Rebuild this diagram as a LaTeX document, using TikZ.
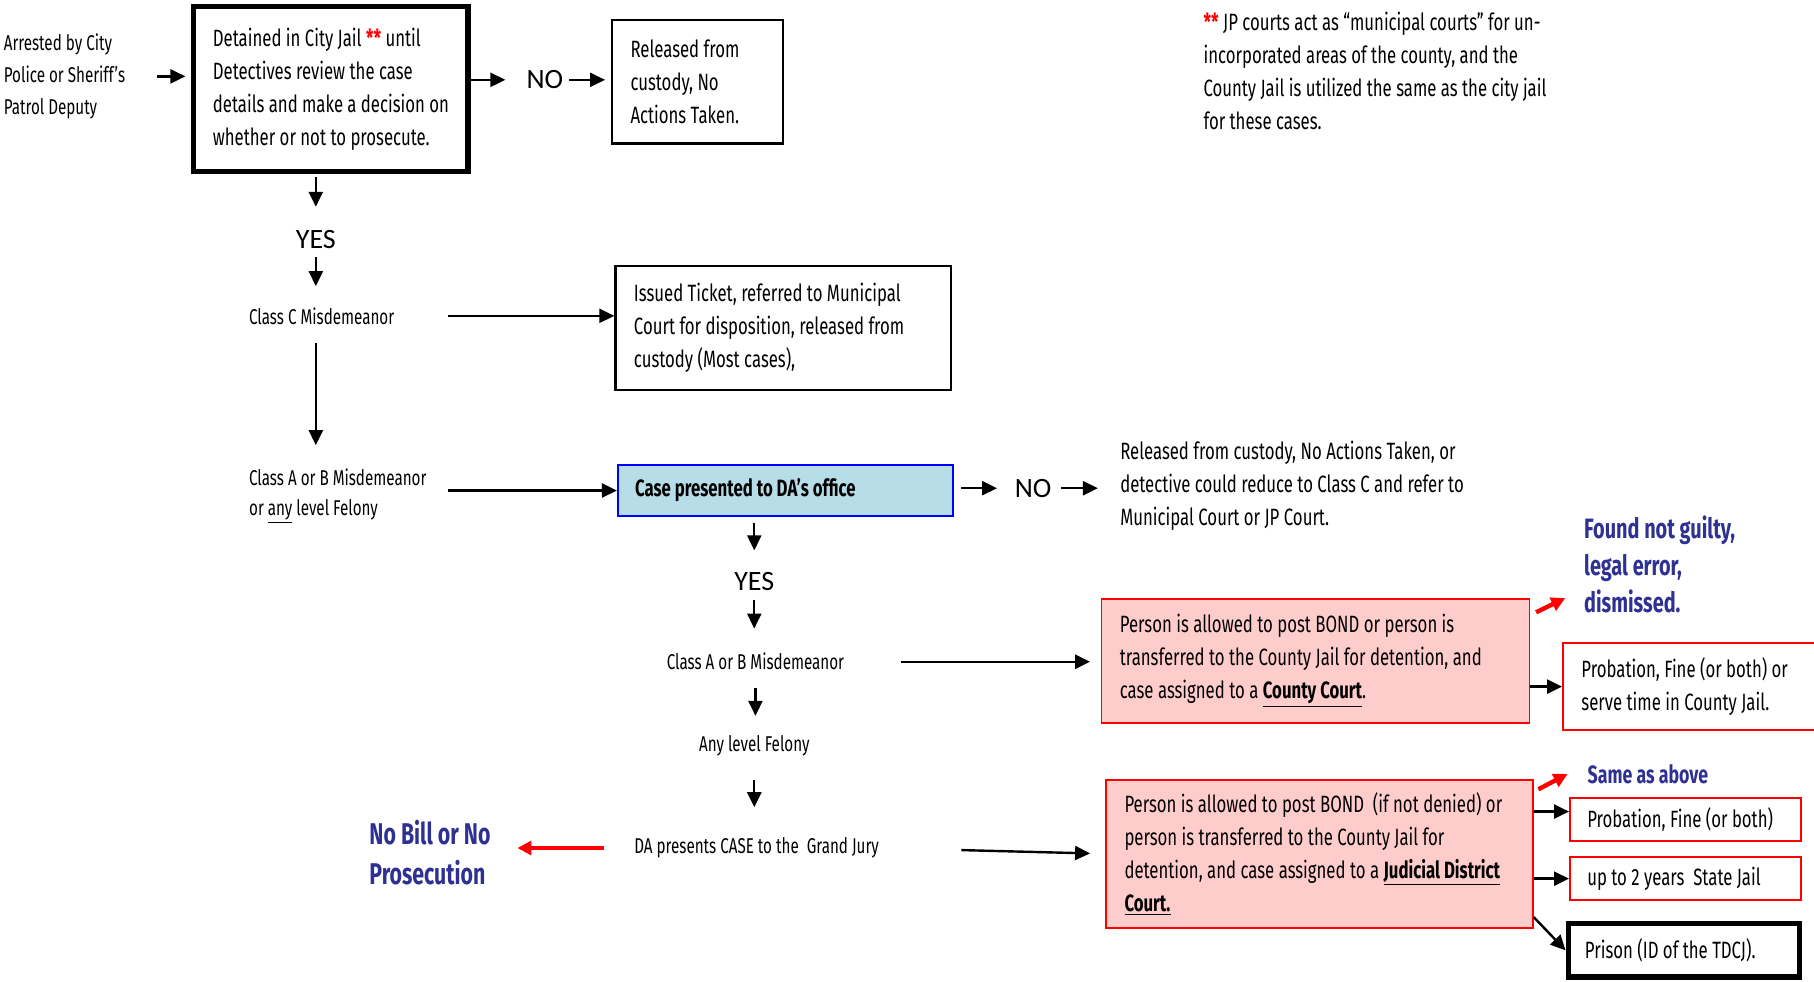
\documentclass[tikz,border=0pt]{standalone}
\usepackage{fontspec}
\setmainfont{Fira Sans}[FakeStretch=0.71]
\newfontfamily\calib{Carlito}
\usetikzlibrary{arrows.meta}
\newdimen\pxu \pxu=0.5785pt
\definecolor{bluetxt}{RGB}{46,49,146}
\definecolor{boxblue}{RGB}{183,222,232}
\definecolor{pinkf}{RGB}{255,204,204}
\definecolor{redb}{RGB}{255,0,0}
\begin{document}
\begin{tikzpicture}[x=0.5785pt,y=-0.5785pt,
  txtfont/.style={font=\fontsize{11.8}{16.5}\selectfont},
  smallfont/.style={font=\fontsize{10.7}{15}\selectfont},
  lbl/.style={txtfont, align=left, inner sep=0pt, anchor=west},
  slbl/.style={smallfont, align=left, inner sep=0pt, anchor=west},
  clbl/.style={smallfont, align=center, inner sep=0pt},
  yn/.style={font=\calib\fontsize{14}{16}\selectfont, inner sep=0pt},
  bluebold/.style={font=\bfseries\fontsize{14}{18.5}\selectfont, text=bluetxt, align=left, inner sep=0pt, anchor=west},
  box/.style={draw, txtfont, align=flush left, inner sep=0pt, line width=2\pxu},
  thickbox/.style={box, line width=4.5\pxu},
  bluebox/.style={box, draw=blue, fill=boxblue, line width=1.5\pxu},
  pinkbox/.style={box, draw=redb, fill=pinkf, line width=1.5\pxu},
  redbox/.style={box, draw=redb, fill=white, line width=1.5\pxu},
  arr/.style={-{Triangle[length=7.5pt,width=7pt]}, line width=1.2pt},
  redarr/.style={-{Triangle[length=7pt,width=7pt]}, draw=redb, line width=2.2pt},
]
\useasboundingbox (0,0) rectangle (1568,848);

% nodes
\node[slbl, font=\fontsize{10.7}{16}\selectfont] (arrested) at (3,66) {Arrested by City\\Police or Sheriff’s\\Patrol Deputy};
\node[thickbox, minimum width=237\pxu, minimum height=143\pxu, text width=204\pxu] (box1) at (286,77)
  {Detained in City Jail \textcolor{redb}{\textbf{**}} until\\Detectives review the case\\details and make a decision on\\whether or not to prosecute.};
\node[yn] (no1) at (471,69) {NO};
\node[box, minimum width=148\pxu, minimum height=107\pxu, text width=116\pxu] (box2) at (603,70.5)
  {Released from\\custody, No\\Actions Taken.};
\node[yn] (yes1) at (273,207) {YES};
\node[slbl] (classC) at (215,273) {Class C Misdemeanor};
\node[box, minimum width=290\pxu, minimum height=107\pxu, text width=258\pxu] (box3) at (677,283.5)
  {Issued Ticket, referred to Municipal\\Court for disposition, released from\\custody (Most cases),};
\node[slbl] (classAB1) at (215,429) {Class A or B Misdemeanor\\or \underline{any} level Felony};
\node[bluebox, minimum width=290\pxu, minimum height=44\pxu, text width=260\pxu] (box4) at (679,424)
  {\textbf{Case presented to DA’s office}};
\node[yn] (no2) at (893,422) {NO};
\node[lbl] (rel2) at (968,419.5) {Released from custody, No Actions Taken, or\\detective could reduce to Class C and refer to\\Municipal Court or JP Court.};
\node[yn] (yes2) at (652,503) {YES};
\node[clbl] (classAB2) at (653,572) {Class A or B Misdemeanor};
\node[clbl] (anyfel) at (652,645) {Any level Felony};
\node[clbl] (grand) at (654,733) {DA presents CASE to the\ \ Grand Jury};
\node[bluebold, font=\bfseries\fontsize{15}{19.7}\selectfont] (nobill) at (319,737) {No Bill or No\\Prosecution};
\node[pinkbox, minimum width=370\pxu, minimum height=107\pxu, text width=338\pxu] (box5) at (1137,571.5)
  {Person is allowed to post BOND or person is\\transferred to the County Jail for detention, and\\case assigned to a \textbf{\underline{County Court}}.};
\node[bluebold] (found) at (1369,488) {Found not guilty,\\legal error,\\dismissed.};
\node[redbox, minimum width=218\pxu, minimum height=75\pxu, text width=186\pxu] (box7) at (1460,593.5)
  {Probation, Fine (or both) or\\serve time in County Jail.};
\node[pinkbox, minimum width=369\pxu, minimum height=128\pxu, text width=337\pxu] (box6) at (1140.5,738)
  {Person is allowed to post BOND\ \ (if not denied) or\\person is transferred to the County Jail for\\detention, and case assigned to a \textbf{\underline{Judicial District}}\\\textbf{\underline{Court.}}};
\node[bluebold, font=\bfseries\fontsize{12.5}{16}\selectfont] (same) at (1372,669) {Same as above};
\node[redbox, minimum width=200\pxu, minimum height=37\pxu, text width=170\pxu] (box8) at (1457,708.5)
  {Probation, Fine (or both)};
\node[redbox, minimum width=200\pxu, minimum height=37\pxu, text width=170\pxu] (box9) at (1457,759.5)
  {up to 2 years\ \ State Jail};
\node[thickbox, minimum width=200\pxu, minimum height=46\pxu, text width=171\pxu] (box10) at (1455.5,821.5)
  {Prison (ID of the TDCJ).};
\node[lbl] (foot) at (1040,61.5) {\textcolor{redb}{\textbf{**}} JP courts act as “municipal courts” for un-\\incorporated areas of the county, and the\\County Jail is utilized the same as the city jail\\for these cases.};

% connectors
\draw[arr, shorten <=27\pxu, shorten >=5\pxu] (arrested.east) -- (arrested.east -| box1.west);
\draw[arr, shorten >=18\pxu] (box1.east |- no1) -- (no1.west);
\draw[arr, shorten <=5\pxu, shorten >=5\pxu] (no1.east) -- (no1.east -| box2.west);
\draw[arr, shorten <=2\pxu, shorten >=20\pxu] (yes1 |- box1.south) -- (yes1.north);
\draw[arr, shorten <=7\pxu, shorten >=18\pxu] (yes1.south) -- (yes1 |- classC.north);
\draw[arr, shorten <=46\pxu] (classC.east) -- (classC.east -| box3.west);
\draw[arr, shorten <=16\pxu, shorten >=20\pxu] (yes1 |- classC.south) -- (yes1 |- classAB1.north);
\draw[arr] ([xshift=46\pxu]classC.east |- box4.west) -- (box4.west);
\draw[arr, shorten <=6\pxu, shorten >=15\pxu] (box4.east |- no2) -- (no2.west);
\draw[arr, shorten <=8\pxu, shorten >=19\pxu] (no2.east) -- (no2.east -| rel2.west);
\draw[arr, shorten <=5\pxu, shorten >=19\pxu] (yes2 |- box4.south) -- (yes2.north);
\draw[arr, shorten <=7\pxu, shorten >=21\pxu] (yes2.south) -- (yes2 |- classAB2.north);
\draw[arr, shorten <=49\pxu, shorten >=9\pxu] (classAB2.east) -- (classAB2.east -| box5.west);
\draw[arr, shorten <=15\pxu, shorten >=17\pxu] (classAB2.south) -- (classAB2.south |- anyfel.north);
\draw[arr, shorten <=20\pxu, shorten >=26\pxu] (anyfel.south) -- (anyfel.south |- grand.north);
\draw[redarr, shorten <=26\pxu, shorten >=23\pxu] (grand.west) -- (grand.west -| nobill.east);
\draw[arr, shorten <=71\pxu, shorten >=13\pxu] (grand.east) -- (box6.west);
\draw[redarr] ([shift={(5\pxu,-12\pxu)}]box5.north east) -- ([shift={(-16\pxu,-29\pxu)}]found.west);
\draw[arr] (box7.west -| box5.east) -- (box7.west);
\draw[redarr] ([shift={(4\pxu,-9\pxu)}]box6.north east) -- ([shift={(-17\pxu,0pt)}]same.west);
\draw[arr] ([yshift=7\pxu]box8.west -| box6.east) -- ([yshift=7\pxu]box8.west);
\draw[arr] (box9.west -| box6.east) -- (box9.west);
\draw[arr] ([yshift=10\pxu]box6.south east) -- (box10.west);
\end{tikzpicture}
\end{document}
